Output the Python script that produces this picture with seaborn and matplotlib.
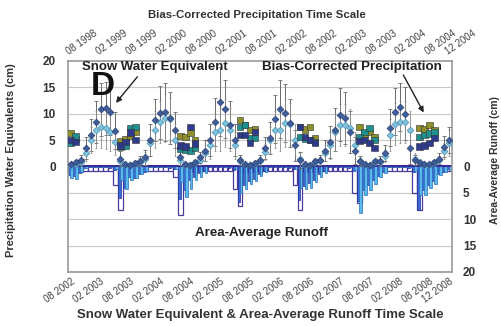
import numpy as np
import pandas as pd
import seaborn as sns
import matplotlib
matplotlib.use("Agg")
import matplotlib.pyplot as plt

# monthly index: 0 = first month of each time scale (08 1998 top, 08 2002 bottom)
months = np.arange(77)
tick_months = [0, 6, 12, 18, 24, 30, 36, 42, 48, 54, 60, 66, 72, 76]
top_labels = ["08 1998", "02 1999", "08 1999", "02 2000", "08 2000", "02 2001", "08 2001",
              "02 2002", "08 2002", "02 2003", "08 2003", "02 2004", "08 2004", "12 2004"]
bottom_labels = ["08 2002", "02 2003", "08 2003", "02 2004", "08 2004", "02 2005", "08 2005",
                 "02 2006", "08 2006", "02 2007", "08 2007", "02 2008", "08 2008", "12 2008"]

# snow water equivalent (cm), dark diamonds
swe_dark = [0.5, 0.8, 1.2, 3.5, 6.0, 8.4, 10.8, 11.0, 10.4, 6.8, 1.5, 0.4,
            0.3, 0.6, 1.0, 1.7, 5.0, 8.8, 10.2, 10.4, 9.2, 6.9, 1.7, 0.5,
            0.3, 0.8, 1.7, 3.0, 5.0, 8.4, 12.3, 10.8, 7.9, 5.0, 1.2, 0.4,
            0.3, 0.6, 1.2, 3.5, 5.4, 9.0, 10.8, 10.2, 8.2, 4.0, 1.2, 0.4,
            0.3, 1.0, 1.2, 3.0, 4.6, 7.0, 9.8, 9.2, 6.5, 3.0, 1.0, 0.4,
            0.3, 1.0, 1.0, 2.5, 7.3, 10.4, 11.3, 10.0, 3.5, 1.2, 0.6, 0.4,
            0.4, 0.8, 1.5, 3.7, 5.0]
err_dark = [0.3, 0.5, 1.0, 2.0, 3.0, 4.0, 5.0, 5.0, 4.5, 3.5, 1.5, 0.3,
            0.3, 0.5, 1.0, 1.5, 3.0, 4.0, 5.0, 5.5, 5.0, 3.5, 1.5, 0.3,
            0.3, 0.5, 1.0, 2.0, 3.0, 4.5, 6.5, 5.5, 4.5, 3.0, 1.0, 0.3,
            0.3, 0.5, 1.0, 2.0, 3.0, 4.5, 5.5, 5.5, 4.5, 3.0, 1.5, 0.3,
            0.3, 0.5, 1.0, 2.0, 3.0, 4.0, 5.0, 5.0, 4.0, 2.5, 1.0, 0.3,
            0.3, 0.5, 1.0, 1.5, 3.5, 4.5, 4.5, 5.0, 3.0, 1.0, 0.5, 0.3,
            0.3, 0.5, 1.0, 2.0, 2.5]
# snow water equivalent (cm), light diamonds
swe_light = [0.3, 0.5, 0.8, 2.5, 5.0, 7.0, 7.5, 7.3, 6.5, 4.7, 1.0, 0.3,
             0.3, 0.5, 0.8, 1.5, 4.5, 7.0, 8.5, 9.2, 9.0, 5.0, 1.2, 0.3,
             0.3, 0.6, 1.2, 2.5, 4.0, 6.5, 7.0, 8.2, 7.0, 4.0, 1.0, 0.3,
             0.3, 0.5, 1.0, 2.8, 5.0, 7.0, 7.0, 8.2, 8.0, 5.0, 1.5, 0.3,
             0.3, 0.8, 1.0, 2.5, 4.0, 6.5, 7.9, 7.9, 7.3, 4.0, 1.0, 0.3,
             0.3, 0.8, 0.8, 2.0, 6.0, 8.0, 8.5, 8.4, 7.0, 1.5, 0.8, 0.3,
             0.3, 0.6, 1.2, 3.0, 4.5]
err_light = [0.3, 0.4, 0.8, 1.5, 2.5, 3.5, 4.0, 4.0, 3.5, 2.5, 0.8, 0.3,
             0.3, 0.4, 0.8, 1.2, 2.5, 3.5, 4.0, 4.5, 4.0, 3.0, 1.0, 0.3,
             0.3, 0.4, 1.0, 1.5, 2.5, 3.5, 4.0, 4.5, 4.0, 2.5, 0.8, 0.3,
             0.3, 0.4, 0.8, 1.5, 2.5, 3.5, 4.0, 4.5, 4.0, 3.0, 1.0, 0.3,
             0.3, 0.5, 0.8, 1.5, 2.5, 3.5, 4.0, 4.0, 3.5, 2.5, 0.8, 0.3,
             0.3, 0.5, 0.6, 1.2, 3.0, 4.0, 4.0, 4.0, 3.5, 1.0, 0.5, 0.3,
             0.3, 0.4, 0.8, 1.5, 2.5]

# bias-corrected precipitation (cm), three products
precip_month = [0, 1, 10, 11, 12, 13, 22, 23, 24, 25, 34, 35, 36, 37,
                46, 47, 48, 49, 58, 59, 60, 61, 70, 71, 72, 73]
precip_olive = [6.3, 5.2, 4.7, 5.2, 5.8, 6.6, 5.8, 5.6, 6.3, 5.0, 8.8, 7.9, 6.9, 7.0,
                7.5, 7.0, 7.5, 5.4, 7.5, 6.2, 6.5, 5.5, 7.3, 7.0, 7.9, 6.8]
precip_teal = [4.4, 5.8, 3.8, 4.0, 7.3, 7.5, 3.3, 3.2, 3.0, 3.6, 7.5, 7.9, 5.4, 5.4,
               5.6, 5.2, 5.0, 4.6, 5.6, 6.5, 7.3, 5.0, 5.6, 6.0, 6.2, 6.4]
precip_blue = [5.0, 4.6, 4.0, 4.6, 6.4, 5.0, 4.0, 3.8, 7.5, 4.3, 6.0, 6.0, 4.4, 6.5,
               7.5, 5.6, 5.0, 4.4, 4.8, 5.0, 4.4, 3.5, 3.8, 4.0, 4.4, 5.4]

# area-average runoff (cm), drawn downward
runoff_white = [1.0, 1.0, 1.0, 0.9, 0.9, 0.9, 0.9, 0.9, 0.9, 3.6, 8.3, 1.0,
                1.0, 1.0, 1.0, 0.9, 0.9, 0.9, 0.9, 0.9, 0.9, 2.1, 9.2, 1.0,
                1.0, 1.0, 1.0, 0.9, 0.9, 0.9, 0.9, 0.9, 0.9, 4.2, 7.5, 1.0,
                1.0, 1.0, 1.0, 0.9, 0.9, 0.9, 0.9, 0.9, 0.9, 3.6, 8.3, 1.0,
                1.0, 1.0, 1.0, 0.9, 0.9, 0.9, 0.9, 0.9, 0.9, 5.1, 7.0, 1.0,
                1.0, 1.0, 1.0, 0.9, 0.9, 0.9, 0.9, 0.9, 0.9, 5.0, 8.3, 1.0,
                1.0, 1.0, 1.0, 0.9, 0.9]
runoff_blue = [1.6, 1.9, 1.2, 0.3, 0.2, 0.2, 0.2, 0.2, 0.3, 0.6, 6.0, 4.0,
               2.0, 2.2, 1.5, 1.0, 0.2, 0.2, 0.2, 0.2, 0.3, 0.5, 6.2, 4.5,
               2.5, 2.0, 1.2, 0.8, 0.2, 0.2, 0.2, 0.2, 0.3, 0.6, 6.8, 3.5,
               2.8, 2.3, 1.5, 0.8, 0.2, 0.2, 0.2, 0.2, 0.3, 0.5, 6.4, 3.8,
               3.2, 2.5, 1.5, 0.8, 0.2, 0.2, 0.2, 0.2, 0.3, 0.8, 6.5, 4.5,
               3.5, 2.5, 1.8, 1.0, 0.2, 0.2, 0.2, 0.2, 0.3, 1.0, 8.3, 4.5,
               3.5, 2.8, 1.5, 1.0, 0.5]
runoff_light = [2.2, 2.3, 1.0, 0.3, 0.2, 0.2, 0.2, 0.2, 0.2, 0.4, 2.5, 4.2,
                2.6, 2.2, 1.5, 0.8, 0.2, 0.2, 0.2, 0.2, 0.2, 0.4, 3.0, 5.8,
                4.2, 2.6, 2.0, 1.2, 0.2, 0.2, 0.2, 0.2, 0.2, 0.5, 5.0, 4.2,
                3.3, 2.8, 1.8, 1.0, 0.2, 0.2, 0.2, 0.2, 0.2, 0.4, 4.0, 4.2,
                4.0, 3.0, 2.0, 1.2, 0.2, 0.2, 0.2, 0.2, 0.2, 0.6, 8.9, 5.5,
                4.5, 3.3, 2.0, 1.2, 0.2, 0.2, 0.2, 0.2, 0.2, 0.8, 5.5, 5.5,
                4.0, 3.3, 1.7, 1.0, 0.6]

sns.set_style("white")
plt.rcParams['font.family'] = ['Liberation Sans', 'DejaVu Sans']

fig = plt.figure(figsize=(5.01, 3.26), dpi=100)
ax = fig.add_axes([0.136, 0.166, 0.766, 0.647])
ax.set_xlim(-0.5, 76.5)
ax.set_ylim(-20, 20)

for g in [-15, -10, -5, 5, 10, 15]:
    ax.axhline(g, color='#c8c8c8', lw=0.8, zorder=0)

# runoff bars
ax.bar(months, -np.array(runoff_white), width=0.9, color='white',
       edgecolor='#4b3a9a', linewidth=0.9, zorder=2)
ax.bar(months - 0.2, -np.array(runoff_blue), width=0.5, color='#3b6ad6',
       edgecolor='#24339a', linewidth=0.5, zorder=2.2)
ax.bar(months + 0.2, -np.array(runoff_light), width=0.5, color='#5ab8ec',
       edgecolor='#2a70b8', linewidth=0.5, zorder=2.3)
ax.axhline(0, color='#3a2f9a', lw=1.5, zorder=2.5)

# SWE with error bars
ax.errorbar(months, swe_dark, yerr=err_dark, fmt='none', ecolor='#6a6a6a',
            elinewidth=0.7, capsize=1.3, capthick=0.6, zorder=3)
ax.errorbar(months, swe_light, yerr=err_light, fmt='none', ecolor='#8a8a8a',
            elinewidth=0.6, capsize=1.0, capthick=0.5, zorder=3)
sns.scatterplot(x=months, y=swe_light, marker='D', s=12, color='#7ec3dd',
                edgecolor='#4e8fb5', linewidth=0.5, ax=ax, zorder=4, legend=False)
sns.scatterplot(x=months, y=swe_dark, marker='D', s=12, color='#3f5d9a',
                edgecolor='#2a3f70', linewidth=0.5, ax=ax, zorder=4.5, legend=False)

# precipitation squares
precip_df = pd.DataFrame({
    'month': precip_month * 3,
    'value': precip_olive + precip_teal + precip_blue,
    'source': ['olive'] * len(precip_month) + ['teal'] * len(precip_month) + ['blue'] * len(precip_month),
})
sns.scatterplot(data=precip_df, x='month', y='value', hue='source', marker='s', s=22,
                palette={'olive': '#8f8f2c', 'teal': '#1f8f8f', 'blue': '#2e3a8c'},
                edgecolor='#333333', linewidth=0.4, ax=ax, zorder=5, legend=False)

# axes and ticks
ax.set_xlabel('')
ax.set_ylabel('')
ax.set_yticks([0, 5, 10, 15, 20])
ax.set_yticklabels(['0', '5', '10', '15', '20'], fontsize=8.5, fontweight='bold', color='#333333')
ax.set_xticks(tick_months)
ax.set_xticklabels(bottom_labels, rotation=35, ha='right', va='top',
                   rotation_mode='anchor', fontsize=7, color='#444444')
ax.tick_params(axis='y', length=0, pad=9)
ax.tick_params(axis='x', length=0, pad=3)
for sp in ax.spines.values():
    sp.set_color('#9a9a9a')
    sp.set_linewidth(1.2)

ax2 = ax.twinx()
ax2.set_ylim(20, -20)
ax2.set_yticks([0, 5, 10, 15, 20])
ax2.set_yticklabels(['0', '5', '10', '15', '20'], fontsize=8.5, fontweight='bold', color='#333333')
ax2.tick_params(length=0, pad=8)

ax3 = ax.twiny()
ax3.set_xlim(ax.get_xlim())
ax3.set_xticks(tick_months)
ax3.set_xticklabels(top_labels, rotation=35, ha='left', va='bottom',
                    rotation_mode='anchor', fontsize=7, color='#444444')
ax3.tick_params(length=0, pad=3)
for a in (ax2, ax3):
    for sp in a.spines.values():
        sp.set_visible(False)

# annotations
ax.text(0.036, 0.972, 'Snow Water Equivalent', transform=ax.transAxes, fontsize=9.5,
        fontweight='bold', color='#222222', va='center', ha='left')
ax.text(0.091, 0.880, 'D', transform=ax.transAxes, fontsize=24, fontweight='bold',
        color='#111111', va='center', ha='center')
ax.annotate('', xy=(0.120, 0.791), xytext=(0.185, 0.935), xycoords='axes fraction',
            arrowprops=dict(arrowstyle='-|>', color='#222222', lw=1.0, mutation_scale=8))
ax.text(0.505, 0.972, 'Bias-Corrected Precipitation', transform=ax.transAxes, fontsize=9.6,
        fontweight='bold', color='#222222', va='center', ha='left')
ax.annotate('', xy=(0.930, 0.744), xytext=(0.870, 0.945), xycoords='axes fraction',
            arrowprops=dict(arrowstyle='-|>', color='#222222', lw=1.0, mutation_scale=8))
ax.text(0.331, 0.185, 'Area-Average Runoff', transform=ax.transAxes, fontsize=9.6,
        fontweight='bold', color='#222222', va='center', ha='left')

fig.text(0.513, 0.954, 'Bias-Corrected Precipitation Time Scale', fontsize=8.2,
         fontweight='bold', color='#333333', ha='center', va='center')
fig.text(0.52, 0.033, 'Snow Water Equivalent & Area-Average Runoff Time Scale', fontsize=9.5,
         fontweight='bold', color='#333333', ha='center', va='center')
fig.text(0.022, 0.509, 'Precipitation Water Equivalents (cm)', fontsize=8, rotation=90,
         fontweight='bold', color='#333333', ha='center', va='center')
fig.text(0.988, 0.509, 'Area-Average Runoff (cm)', fontsize=7.5, rotation=90,
         fontweight='bold', color='#333333', ha='center', va='center')

fig.savefig('out.png', dpi=100)
